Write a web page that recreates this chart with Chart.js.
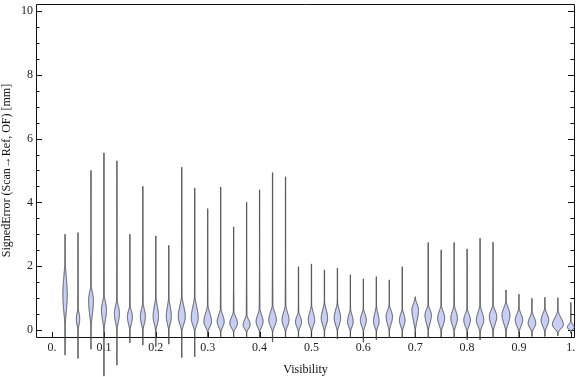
<!DOCTYPE html>
<html lang="en">
<head>
<meta charset="UTF-8">
<title>Signed error vs visibility</title>
<script src="https://cdn.jsdelivr.net/npm/chart.js"></script>
<style>
  body { margin: 0; background: #fff; }
  #wrap { width: 576px; height: 377px; }
</style>
</head>
<body>
<div id="wrap"><canvas id="violinChart" width="576" height="377"></canvas></div>
<script>
// one violin per visibility bin
const visibility = [0.025, 0.05, 0.075, 0.1, 0.125, 0.15, 0.175, 0.2, 0.225, 0.25,
                    0.275, 0.3, 0.325, 0.35, 0.375, 0.4, 0.425, 0.45, 0.475, 0.5,
                    0.525, 0.55, 0.575, 0.6, 0.625, 0.65, 0.675, 0.7, 0.725, 0.75,
                    0.775, 0.8, 0.825, 0.85, 0.875, 0.9, 0.925, 0.95, 0.975, 1.0];
// extremes of the signed error [mm]
const errMax = [3.0, 3.05, 5.0, 5.55, 5.3, 3.0, 4.5, 2.95, 2.65, 5.1,
                4.45, 3.8, 4.48, 3.23, 4.0, 4.39, 4.93, 4.8, 1.98, 2.07,
                1.88, 1.94, 1.73, 1.6, 1.67, 1.57, 1.98, 1.04, 2.74, 2.51,
                2.74, 2.54, 2.87, 2.75, 1.25, 1.12, 0.99, 1.02, 1.01, 0.86];
const errMin = [-0.78, -0.89, -0.6, -1.44, -1.1, -0.4, -0.47, -0.52, -0.44, -0.86,
                -0.84, -0.25, -0.22, -0.22, -0.22, -0.25, -0.37, -0.22, -0.25, -0.25,
                -0.25, -0.28, -0.25, -0.38, -0.3, -0.25, -0.25, -0.22, -0.25, -0.22,
                -0.25, -0.3, -0.31, -0.25, -0.22, -0.22, -0.2, -0.2, -0.18, -0.1];
// where the density bulge sits
const errMode = [1.1, 0.35, 0.94, 0.63, 0.52, 0.42, 0.42, 0.42, 0.42, 0.42,
                 0.37, 0.26, 0.26, 0.21, 0.16, 0.26, 0.31, 0.31, 0.26, 0.31,
                 0.37, 0.37, 0.26, 0.31, 0.26, 0.42, 0.31, 0.63, 0.47, 0.37,
                 0.37, 0.31, 0.31, 0.42, 0.47, 0.31, 0.21, 0.31, 0.16, 0.08];
const bulgeTop = [2.4, 0.8, 1.5, 1.2, 1.05, 0.85, 0.95, 1.15, 1.15, 1.15,
                  1.15, 0.84, 0.73, 0.63, 0.52, 0.73, 0.84, 0.84, 0.63, 0.84,
                  0.94, 0.94, 0.73, 0.73, 0.84, 0.84, 0.73, 1.04, 0.84, 0.84,
                  0.84, 0.73, 0.84, 0.84, 0.94, 0.73, 0.63, 0.73, 0.63, 0.3];
const bulgeBottom = [-0.1, -0.1, -0.1, -0.1, -0.1, -0.1, -0.1, -0.1, -0.1, -0.1,
                     -0.1, -0.1, -0.1, -0.1, -0.1, -0.1, -0.1, -0.1, -0.1, -0.1,
                     -0.1, -0.1, -0.1, -0.1, -0.1, -0.1, -0.1, -0.1, -0.1, -0.1,
                     -0.1, -0.1, -0.1, -0.1, -0.1, -0.1, -0.1, -0.1, -0.1, -0.05];
// relative peak density (violin half width)
const density = [2.7, 2.2, 2.9, 3.0, 3.0, 3.0, 3.0, 3.2, 3.0, 4.0,
                 4.0, 4.3, 4.0, 4.3, 4.0, 4.0, 4.3, 4.0, 3.5, 3.7,
                 3.7, 3.7, 3.3, 3.5, 3.3, 3.7, 3.3, 3.8, 3.7, 4.0,
                 3.8, 3.8, 4.2, 4.2, 4.5, 4.2, 4.3, 4.3, 6.0, 4.0];

const xTicks = [0, 0.1, 0.2, 0.3, 0.4, 0.5, 0.6, 0.7, 0.8, 0.9, 1.0];
const xTickLabels = ["0.", "0.1", "0.2", "0.3", "0.4", "0.5", "0.6", "0.7", "0.8", "0.9", "1."];
const yTicks = [0, 2, 4, 6, 8, 10];

const densityToX = 0.00193;

// frame with inward ticks, Mathematica style
const framePlugin = {
    id: 'frame',
    afterDatasetsDraw(chart) {
        const { ctx, chartArea: a, scales: { x, y } } = chart;
        ctx.save();
        ctx.strokeStyle = '#111';
        ctx.lineWidth = 1;
        ctx.beginPath();
        ctx.rect(Math.round(a.left) + 0.5, Math.round(a.top) + 0.5,
                 Math.round(a.right - a.left) - 1, Math.round(a.bottom - a.top));
        ctx.stroke();
        ctx.beginPath();
        xTicks.forEach(v => {
            const px = Math.round(x.getPixelForValue(v)) + 0.5;
            ctx.moveTo(px, a.bottom);
            ctx.lineTo(px, a.bottom - 5);
        });
        for (let v = 0; v <= 10.001; v += 0.5) {
            const py = Math.round(y.getPixelForValue(v)) + 0.5;
            const len = (v % 2 === 0) ? 6 : 3.5;
            ctx.moveTo(a.left, py);
            ctx.lineTo(a.left + len, py);
            ctx.moveTo(a.right - 1, py);
            ctx.lineTo(a.right - 1 - len, py);
        }
        ctx.stroke();
        ctx.restore();
    }
};

const violinPlugin = {
    id: 'violins',
    afterDatasetsDraw(chart) {
        const { ctx, scales: { x, y } } = chart;
        ctx.save();
        visibility.forEach((v, i) => {
            const cx = x.getPixelForValue(v);
            const wPx = x.getPixelForValue(v + density[i] * densityToX) - cx;
            const mode = errMode[i], top = bulgeTop[i], bot = bulgeBottom[i];
            const lo = errMin[i], hi = errMax[i];
            const tailW = 0.9;
            const half = val => {
                let t, tail;
                if (val >= mode) {
                    t = (val - mode) / (top - mode);
                    tail = tailW * (1 - 0.7 * (val - mode) / (hi - mode));
                } else {
                    t = (mode - val) / (mode - bot);
                    tail = tailW * (1 - 0.7 * (mode - val) / (mode - lo));
                }
                const bump = wPx * Math.exp(-2.3 * t * t);
                return Math.max(0.15, Math.max(bump, tail) - 0.5);
            };
            const pTop = y.getPixelForValue(hi), pBot = y.getPixelForValue(lo);
            const n = Math.max(20, Math.ceil((pBot - pTop) * 2));
            const pts = [];
            for (let k = 0; k <= n; k++) {
                const val = lo + (hi - lo) * k / n;
                pts.push([y.getPixelForValue(val), half(val)]);
            }
            ctx.beginPath();
            pts.forEach(([py, h], k) => k === 0 ? ctx.moveTo(cx + h, py) : ctx.lineTo(cx + h, py));
            for (let k = pts.length - 1; k >= 0; k--) ctx.lineTo(cx - pts[k][1], pts[k][0]);
            ctx.closePath();
            ctx.fillStyle = '#c8cff4';
            ctx.fill();
            ctx.strokeStyle = 'rgba(60,60,60,0.85)';
            ctx.lineWidth = 1;
            ctx.stroke();
        });
        ctx.restore();
    }
};

const ctx = document.getElementById('violinChart').getContext('2d');
new Chart(ctx, {
    type: 'scatter',
    data: {
        datasets: [{
            data: visibility.map((v, i) => ({ x: v, y: errMode[i] })),
            pointRadius: 0
        }]
    },
    options: {
        responsive: false,
        animation: false,
        layout: { padding: { top: 4, right: 1, left: 0, bottom: 0 } },
        plugins: { legend: { display: false }, tooltip: { enabled: false } },
        scales: {
            x: {
                type: 'linear',
                min: -0.031,
                max: 1.008,
                grid: { display: false, drawTicks: false },
                border: { display: false },
                afterBuildTicks: s => { s.ticks = xTicks.map(v => ({ value: v })); },
                afterFit: s => { s.height = 40; s.paddingLeft = 0; s.paddingRight = 0; },
                ticks: {
                    autoSkip: false,
                    maxRotation: 0,
                    padding: 4,
                    color: '#222',
                    font: { family: 'Liberation Serif', size: 12 },
                    callback: v => xTickLabels[xTicks.indexOf(v)]
                },
                title: {
                    display: true,
                    text: 'Visibility',
                    color: '#111',
                    padding: { top: 2, bottom: 0 },
                    font: { family: 'Liberation Serif', size: 12 }
                }
            },
            y: {
                min: -0.219,
                max: 10.219,
                grid: { display: false, drawTicks: false },
                border: { display: false },
                afterBuildTicks: s => { s.ticks = yTicks.map(v => ({ value: v })); },
                afterFit: s => { s.width = 36; s.paddingTop = 0; s.paddingBottom = 0; },
                ticks: {
                    padding: 3,
                    color: '#222',
                    font: { family: 'Liberation Serif', size: 12 },
                    callback: v => String(v)
                },
                title: {
                    display: true,
                    text: 'SignedError (Scan\u2192Ref, OF) [mm]',
                    color: '#111',
                    padding: { top: 0, bottom: 0 },
                    font: { family: 'Liberation Serif', size: 12 }
                }
            }
        }
    },
    plugins: [framePlugin, violinPlugin]
});
</script>
</body>
</html>
